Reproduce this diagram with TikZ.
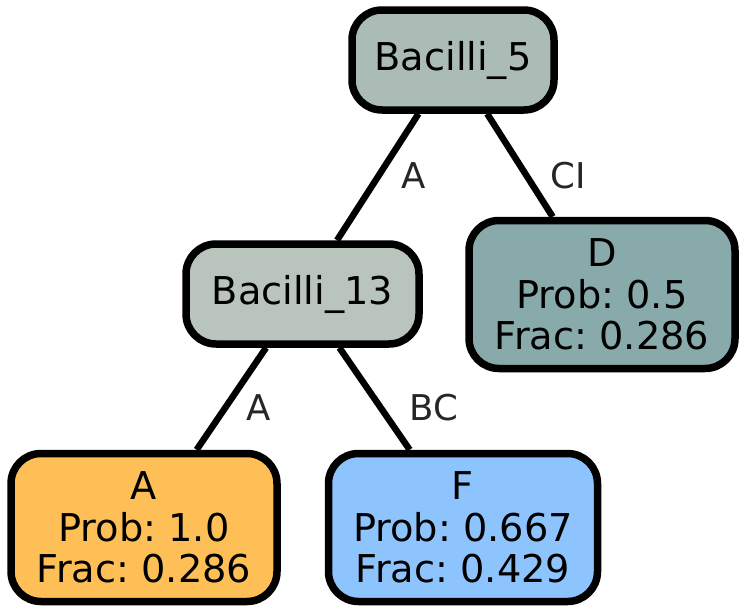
\documentclass[tikz,border=0pt]{standalone}
\usepackage{fontspec}
\setmainfont{DejaVu Sans}
\frenchspacing
\definecolor{fillroot}{HTML}{ABBCB7}
\definecolor{fillmid}{HTML}{B9C4BC}
\definecolor{fillD}{HTML}{89AAAB}
\definecolor{fillA}{HTML}{FEBF56}
\definecolor{fillF}{HTML}{8EC4FE}
\definecolor{edgetext}{HTML}{262626}
\begin{document}
\begin{tikzpicture}[x=1pt,y=-1pt,
  treenode/.style={draw=black, line width=7.5pt, rounded corners=30pt,
    align=center, inner sep=0pt, font=\fontsize{38.3}{41.5}\selectfont},
  leafnode/.style={treenode, minimum width=266pt, minimum height=148pt},
  inner/.style={treenode, minimum height=100pt},
  branch/.style={draw=black, line width=6.5pt},
  blabel/.style={text=edgetext, font=\fontsize{35.5}{40}\selectfont, inner sep=0pt}]
\useasboundingbox (0,0) rectangle (747,613);

\node[inner, fill=fillroot, minimum width=202pt] (b5) at (453,60) {Bacilli\_5};
\node[inner, fill=fillmid, minimum width=233pt] (b13) at (302.5,294) {Bacilli\_13};
\node[leafnode, fill=fillD] (d) at (602,294.5) {D\\Prob: 0.5\\Frac: 0.286};
\node[leafnode, fill=fillA] (a) at (144,527.5) {A\\Prob: 1.0\\Frac: 0.286};
\node[leafnode, fill=fillF, minimum width=269pt] (f) at (463,527.5) {F\\Prob: 0.667\\Frac: 0.429};

\draw[branch] (b5) -- (b13);
\draw[branch] (b5) -- (d);
\draw[branch] (b13) -- (a);
\draw[branch] (b13) -- (f);

\node[blabel] (la1) at (414,176) {A};
\node[blabel] (lci) at (568,176) {CI};
\node[blabel] (la2) at (259,408) {A};
\node[blabel] (lbc) at (434,408) {BC};
\end{tikzpicture}
\end{document}
